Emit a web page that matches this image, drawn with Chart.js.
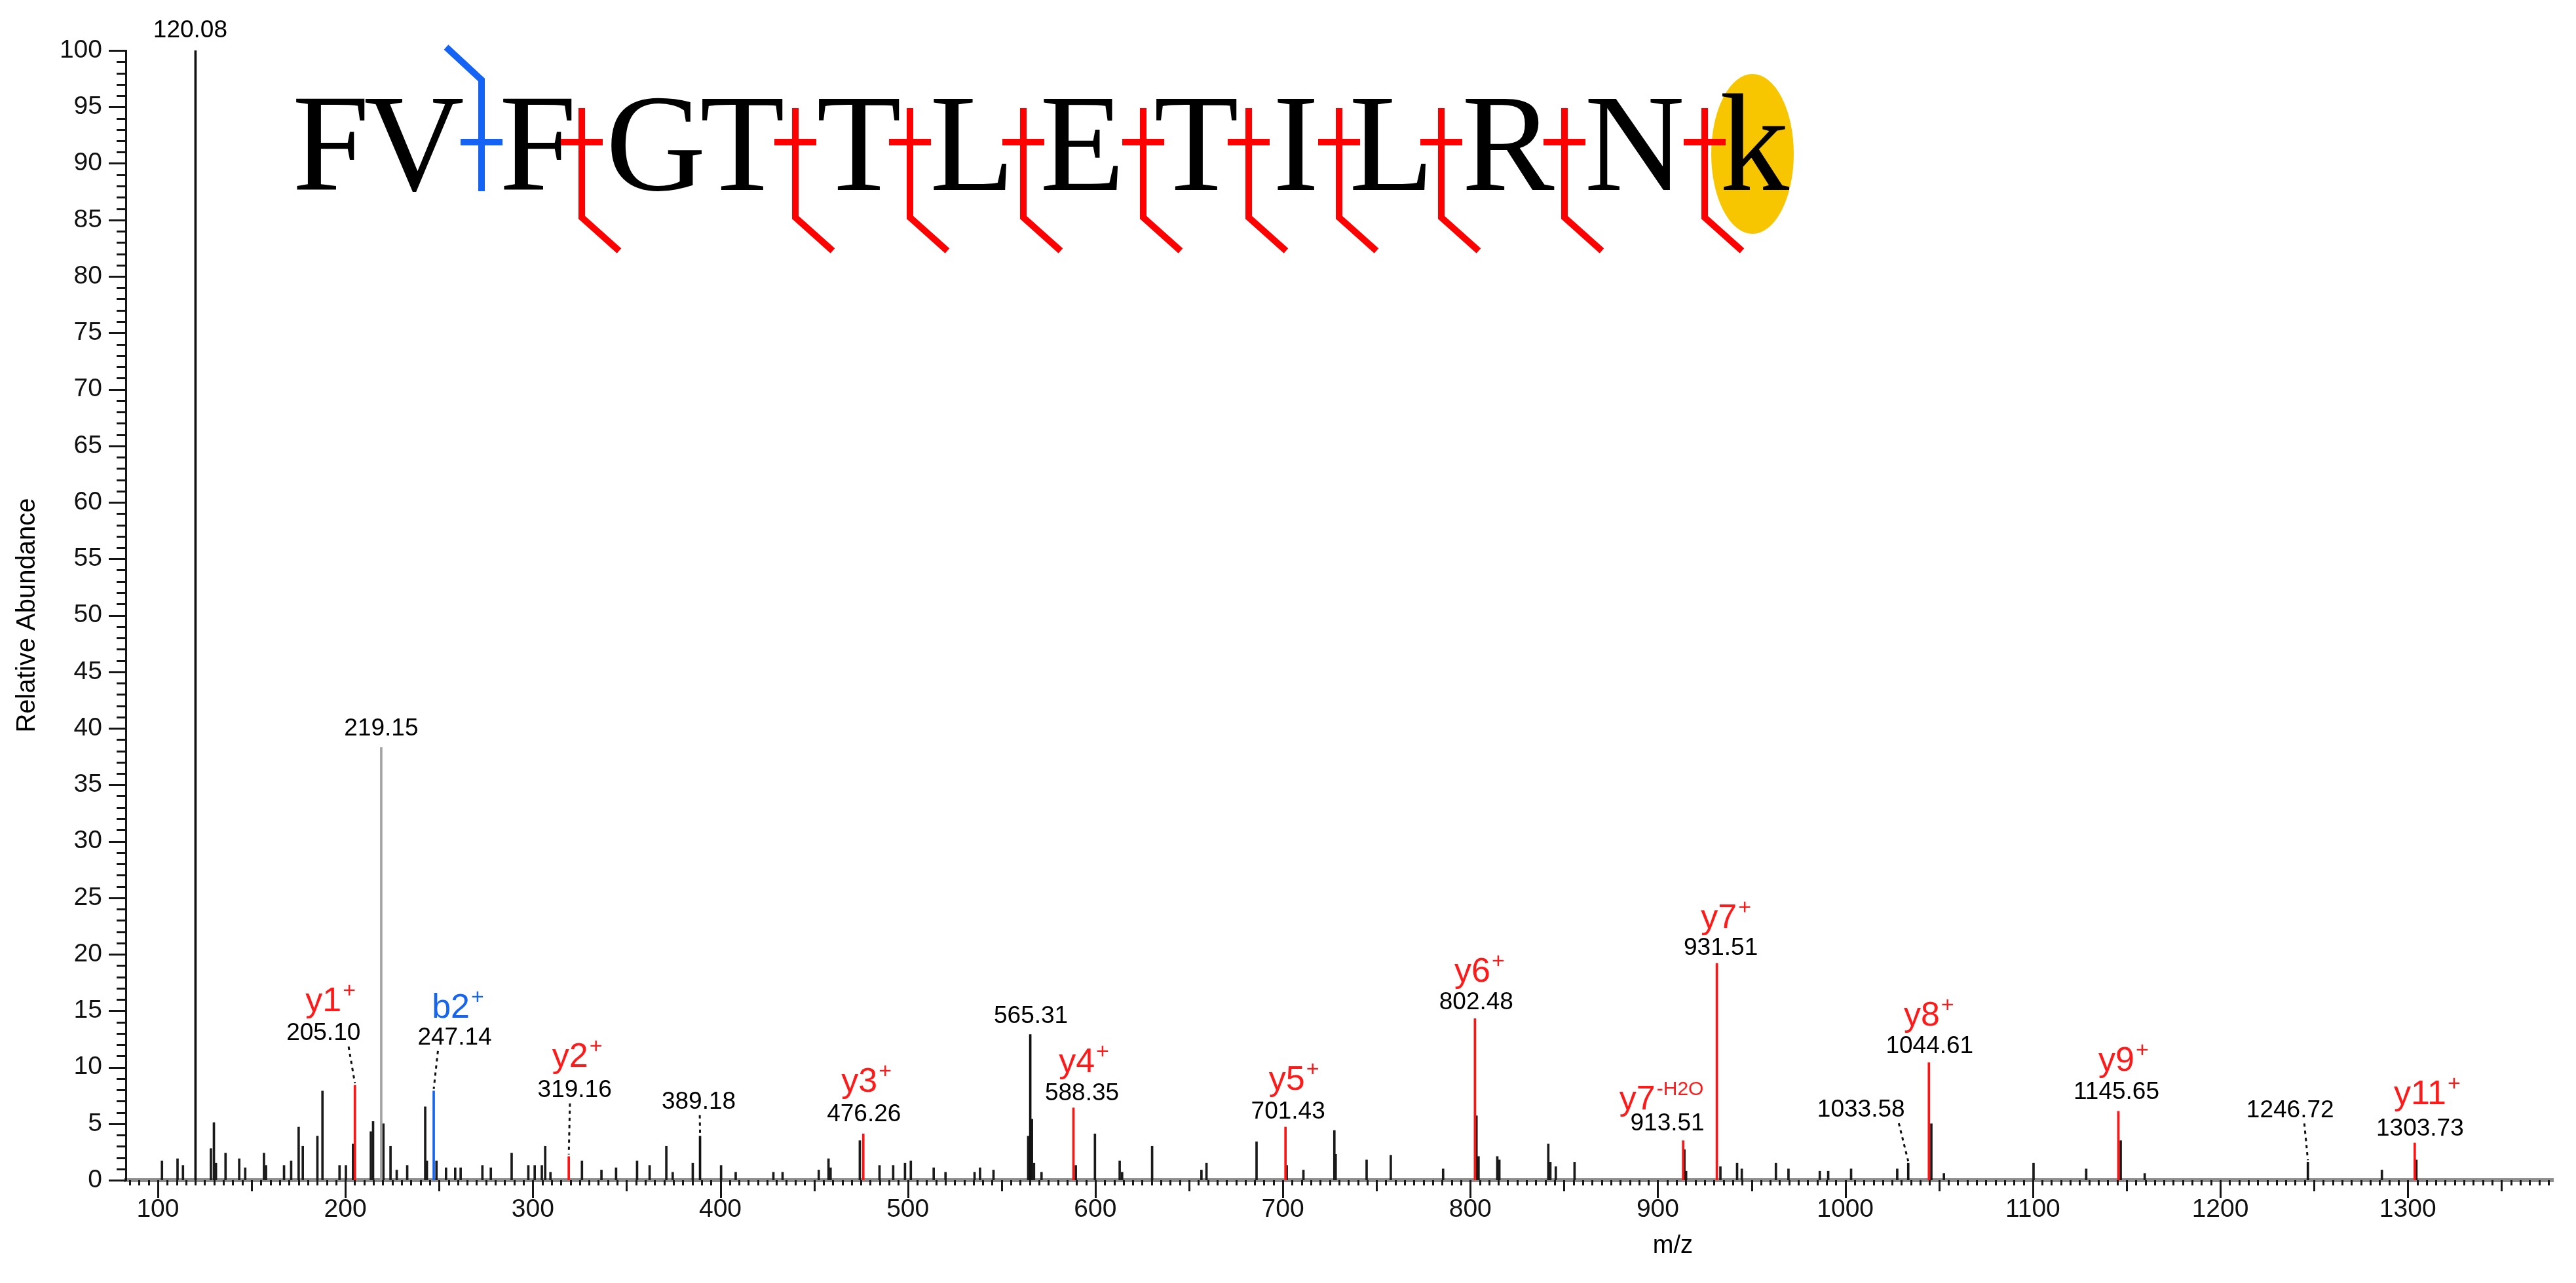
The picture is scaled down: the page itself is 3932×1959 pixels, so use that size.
<!DOCTYPE html>
<html>
<head>
<meta charset="utf-8">
<script src="https://cdn.jsdelivr.net/npm/chart.js@4.4.1/dist/chart.umd.min.js"></script>
<style>
  html, body { margin: 0; padding: 0; background: #fff; }
  canvas { display: block; }
</style>
</head>
<body>
<canvas id="spectrum" width="3932" height="1959"></canvas>
<script>
// unlabelled fragment peaks (m/z, relative abundance %)
const noiseMz = [
  102.2, 110.5, 113.4, 128.3, 129.9, 131.0, 136.1, 143.4, 146.6, 156.6, 157.7,
  167.3, 171.1, 175.1, 177.3, 185.1, 187.8, 196.9, 200.3, 204.1, 213.6, 214.8,
  220.3, 224.1, 227.4, 233.0, 242.6, 243.5, 248.6, 253.7, 258.6, 261.5, 273.1,
  277.6, 288.7, 297.6, 301.0, 304.8, 306.6, 309.4, 326.2, 336.6, 344.4, 355.6,
  362.3, 371.2, 374.6, 385.3, 400.4, 408.2, 428.3, 433.2, 452.5, 457.7, 458.8,
  474.4, 484.9, 492.2, 498.5, 501.6, 513.8, 520.1, 535.6, 538.5, 545.7, 564.2,
  566.2, 567.3, 571.3, 589.6, 599.8, 613.0, 614.3, 630.3, 656.6, 659.3, 686.0,
  702.1, 711.0, 727.5, 728.2, 744.7, 757.6, 785.5, 803.3, 804.4, 814.4, 815.5,
  841.6, 842.7, 845.6, 855.6, 914.2, 915.1, 933.4, 942.3, 944.8, 963.0, 969.7,
  986.4, 990.9, 1003.1, 1027.7, 1045.9, 1052.6, 1100.4, 1128.5, 1146.9, 1159.7,
  1286.2, 1304.6
];
const noiseInt = [
  1.7, 1.9, 1.3, 2.8, 5.1, 1.5, 2.4, 1.9, 1.1, 2.4, 1.3,
  1.3, 1.7, 4.7, 3.0, 3.9, 7.9, 1.3, 1.3, 3.2, 4.3, 5.2,
  5.0, 3.0, 0.9, 1.3, 6.5, 1.7, 1.7, 1.1, 1.1, 1.1, 1.3,
  1.1, 2.4, 1.3, 1.3, 1.3, 3.0, 0.7, 1.7, 0.9, 1.1, 1.7,
  1.3, 3.0, 0.7, 1.5, 1.3, 0.7, 0.7, 0.7, 0.9, 1.9, 1.1,
  3.5, 1.3, 1.3, 1.5, 1.7, 1.1, 0.7, 0.7, 1.1, 0.9, 3.9,
  5.4, 1.5, 0.7, 1.3, 4.1, 1.7, 0.7, 3.0, 0.9, 1.5, 3.4,
  1.3, 0.9, 4.4, 2.3, 1.8, 2.2, 1.0, 5.7, 2.1, 2.1, 1.8,
  3.2, 1.6, 1.2, 1.6, 2.7, 0.8, 1.2, 1.5, 1.0, 1.5, 1.0,
  0.8, 0.8, 1.0, 1.0, 5.0, 0.6, 1.5, 1.0, 3.5, 0.6,
  0.9, 1.8
];

// labelled peaks
const peakMz = [120.08, 205.10, 219.15, 247.14, 319.16, 389.18, 476.26, 565.31, 588.35,
  701.43, 802.48, 913.51, 931.51, 1033.58, 1044.61, 1145.65, 1246.72, 1303.73];
const peakInt = [100, 8.4, 38.3, 7.9, 2.1, 3.9, 4.1, 12.9, 6.4,
  4.7, 14.3, 3.5, 19.2, 1.5, 10.4, 6.1, 1.6, 3.3];
const peakText = ["120.08", "205.10", "219.15", "247.14", "319.16", "389.18", "476.26", "565.31", "588.35",
  "701.43", "802.48", "913.51", "931.51", "1033.58", "1044.61", "1145.65", "1246.72", "1303.73"];
const peakIon = ["", "y1", "", "b2", "y2", "", "y3", "", "y4",
  "y5", "y6", "y7", "y7", "", "y8", "y9", "", "y11"];
const peakIonSup = ["", "+", "", "+", "+", "", "+", "", "+",
  "+", "+", "-H2O", "+", "", "+", "+", "", "+"];
const peakKind = ["plain", "y", "gray", "b", "y", "plain", "y", "plain", "y",
  "y", "y", "y", "y", "plain", "y", "y", "plain", "y"];

// axis ticks
const xTicks = [100, 200, 300, 400, 500, 600, 700, 800, 900, 1000, 1100, 1200, 1300];
const yTicks = [0, 5, 10, 15, 20, 25, 30, 35, 40, 45, 50, 55, 60, 65, 70, 75, 80, 85, 90, 95, 100];

// peptide sequence, cleavage sites (index of residue before the cut)
const sequence = ["F", "V", "F", "G", "T", "T", "L", "E", "T", "I", "L", "R", "N", "k"];
const bCuts = [2];
const yCuts = [3, 5, 6, 7, 8, 9, 10, 11, 12, 13];

// ---- layout / style ----
const kindColor = { plain: "#111111", gray: "#a3a3a3", y: "#ff1414", b: "#1665f0" };
const ionColor = { y: "#ff1a1a", b: "#1665f0" };
// label offsets from the peak top, px: [dx, dy, ionDx, ionDy, leader]
const labelPos = [
  [-8, -30], [-48, -79, -38, -127, true], [0, -29], [32, -81, 36, -126, true],
  [9, -101, 12, -151, true], [-2, -52, 0, 0, true], [1, -29, 4, -79], [1, -28],
  [13, -22, 15, -69], [4, -23, 12, -71], [2, -25, 6, -71], [-24, -26, -34, -62],
  [6, -23, 13, -68], [-72, -81, 0, 0, true], [1, -25, -1, -71], [-3, -29, 7, -76],
  [-27, -79, 0, 0, true], [8, -21, 18, -73]
];
const letterX = [505, 632, 821, 1001, 1133, 1311, 1484, 1652, 1826, 1978, 2124, 2302, 2495, 2678];
const cutX = { 2: 735, 3: 888, 5: 1214, 6: 1389, 7: 1562, 8: 1745, 9: 1906, 10: 2044, 11: 2200, 12: 2388, 13: 2602 };
const SANS = "'Liberation Sans', Arial, sans-serif";

const decor = {
  id: "decor",
  afterDraw(chart) {
    const ctx = chart.ctx;
    const sx = chart.scales.x;
    const sy = chart.scales.y;
    const area = chart.chartArea;
    ctx.save();

    // tick marks
    ctx.strokeStyle = "#151515";
    ctx.lineWidth = 3;
    for (let v = 0; v <= 100; v++) {
      const py = Math.round(sy.getPixelForValue(v)) + 0.5;
      const len = v % 5 === 0 ? 26 : 14;
      ctx.beginPath();
      ctx.moveTo(area.left - len, py);
      ctx.lineTo(area.left, py);
      ctx.stroke();
    }
    for (let m = 85; m <= sx.max; m += 5) {
      const px = Math.round(sx.getPixelForValue(m)) + 0.5;
      const len = m % 100 === 0 ? 27 : (m % 50 === 0 ? 17 : 8);
      ctx.beginPath();
      ctx.moveTo(px, area.bottom);
      ctx.lineTo(px, area.bottom + len);
      ctx.stroke();
    }

    // peak labels
    ctx.textAlign = "center";
    ctx.textBaseline = "middle";
    peakMz.forEach((mz, i) => {
      const px = sx.getPixelForValue(mz);
      const py = sy.getPixelForValue(peakInt[i]);
      const [dx, dy, idx, idy, leader] = labelPos[i];
      const lx = px + dx;
      const ly = py + dy;
      ctx.fillStyle = "#000";
      ctx.font = "37px " + SANS;
      ctx.fillText(peakText[i], lx, ly);
      if (leader) {
        ctx.save();
        ctx.strokeStyle = "#111";
        ctx.lineWidth = 3;
        ctx.setLineDash([5, 6]);
        ctx.beginPath();
        ctx.moveTo(lx + (px - lx) * 0.8, ly + 20);
        ctx.lineTo(px, py - 3);
        ctx.stroke();
        ctx.restore();
      }
      if (peakIon[i]) {
        ctx.font = "52px " + SANS;
        const w1 = ctx.measureText(peakIon[i]).width;
        const supSize = peakIonSup[i] === "+" ? 34 : 30;
        ctx.font = supSize + "px " + SANS;
        const w2 = ctx.measureText(peakIonSup[i]).width;
        const x0 = px + idx - (w1 + w2) / 2;
        const iy = py + idy;
        ctx.fillStyle = ionColor[peakKind[i]];
        ctx.textAlign = "left";
        ctx.font = "52px " + SANS;
        ctx.fillText(peakIon[i], x0, iy);
        ctx.font = supSize + "px " + SANS;
        ctx.fillText(peakIonSup[i], x0 + w1 + 2, iy - 16);
        ctx.textAlign = "center";
      }
    });

    // axis titles
    ctx.fillStyle = "#000";
    ctx.font = "38px " + SANS;
    ctx.fillText("m/z", sx.getPixelForValue(908), 1903);
    ctx.save();
    ctx.translate(42, (area.top + area.bottom) / 2);
    ctx.rotate(-Math.PI / 2);
    ctx.font = "40px " + SANS;
    ctx.fillText("Relative Abundance", 0, 0);
    ctx.restore();

    // peptide sequence with fragment markers
    ctx.fillStyle = "#f7c600";
    ctx.beginPath();
    ctx.ellipse(2675, 235, 63, 122, 0, 0, Math.PI * 2);
    ctx.fill();
    ctx.fillStyle = "#000";
    ctx.font = "212px 'Liberation Serif', 'Times New Roman', serif";
    ctx.textBaseline = "alphabetic";
    sequence.forEach((aa, i) => ctx.fillText(aa, letterX[i], 290));

    ctx.lineWidth = 10;
    ctx.lineJoin = "miter";
    yCuts.forEach(c => {
      const cx = cutX[c];
      ctx.strokeStyle = "#ff0000";
      ctx.beginPath();
      ctx.moveTo(cx, 165);
      ctx.lineTo(cx, 332);
      ctx.lineTo(cx + 57, 383);
      ctx.moveTo(cx - 32, 217);
      ctx.lineTo(cx + 32, 217);
      ctx.stroke();
    });
    bCuts.forEach(c => {
      const cx = cutX[c];
      ctx.strokeStyle = "#1463f5";
      ctx.beginPath();
      ctx.moveTo(cx, 292);
      ctx.lineTo(cx, 122);
      ctx.lineTo(cx - 54, 72);
      ctx.moveTo(cx - 32, 217);
      ctx.lineTo(cx + 32, 217);
      ctx.stroke();
    });
    ctx.restore();
  }
};

new Chart(document.getElementById("spectrum"), {
  type: "bar",
  data: {
    datasets: [
      {
        label: "annotated",
        data: peakMz.map((mz, i) => ({ x: mz, y: peakInt[i] })),
        backgroundColor: peakKind.map(k => kindColor[k]),
        barThickness: 3,
        grouped: false
      },
      {
        label: "other",
        data: noiseMz.map((mz, i) => ({ x: mz, y: noiseInt[i] })),
        backgroundColor: "#1a1a1a",
        barThickness: 3,
        grouped: false
      }
    ]
  },
  options: {
    responsive: false,
    animation: false,
    layout: { padding: { left: 0, top: 77, right: 35, bottom: 0 } },
    plugins: {
      legend: { display: false },
      tooltip: { enabled: false },
      title: { display: false }
    },
    scales: {
      x: {
        type: "linear",
        offset: false,
        min: 82.9,
        max: 1377.5,
        afterBuildTicks: axis => { axis.ticks = xTicks.map(v => ({ value: v })); },
        afterFit: scale => { scale.height = 157; },
        grid: { display: false, drawTicks: false },
        border: { display: true, color: "#8c8c8c", width: 6 },
        ticks: {
          maxRotation: 0,
          autoSkip: false,
          padding: 22,
          color: "#111",
          font: { family: SANS, size: 39 },
          callback: v => String(v)
        }
      },
      y: {
        min: 0,
        max: 100,
        afterBuildTicks: axis => { axis.ticks = yTicks.map(v => ({ value: v })); },
        afterFit: scale => { scale.width = 192; },
        grid: { display: false, drawTicks: false },
        border: { display: true, color: "#151515", width: 3 },
        ticks: {
          autoSkip: false,
          padding: 36,
          color: "#111",
          font: { family: SANS, size: 39 },
          callback: v => String(v)
        }
      }
    }
  },
  plugins: [decor]
});
</script>
</body>
</html>
